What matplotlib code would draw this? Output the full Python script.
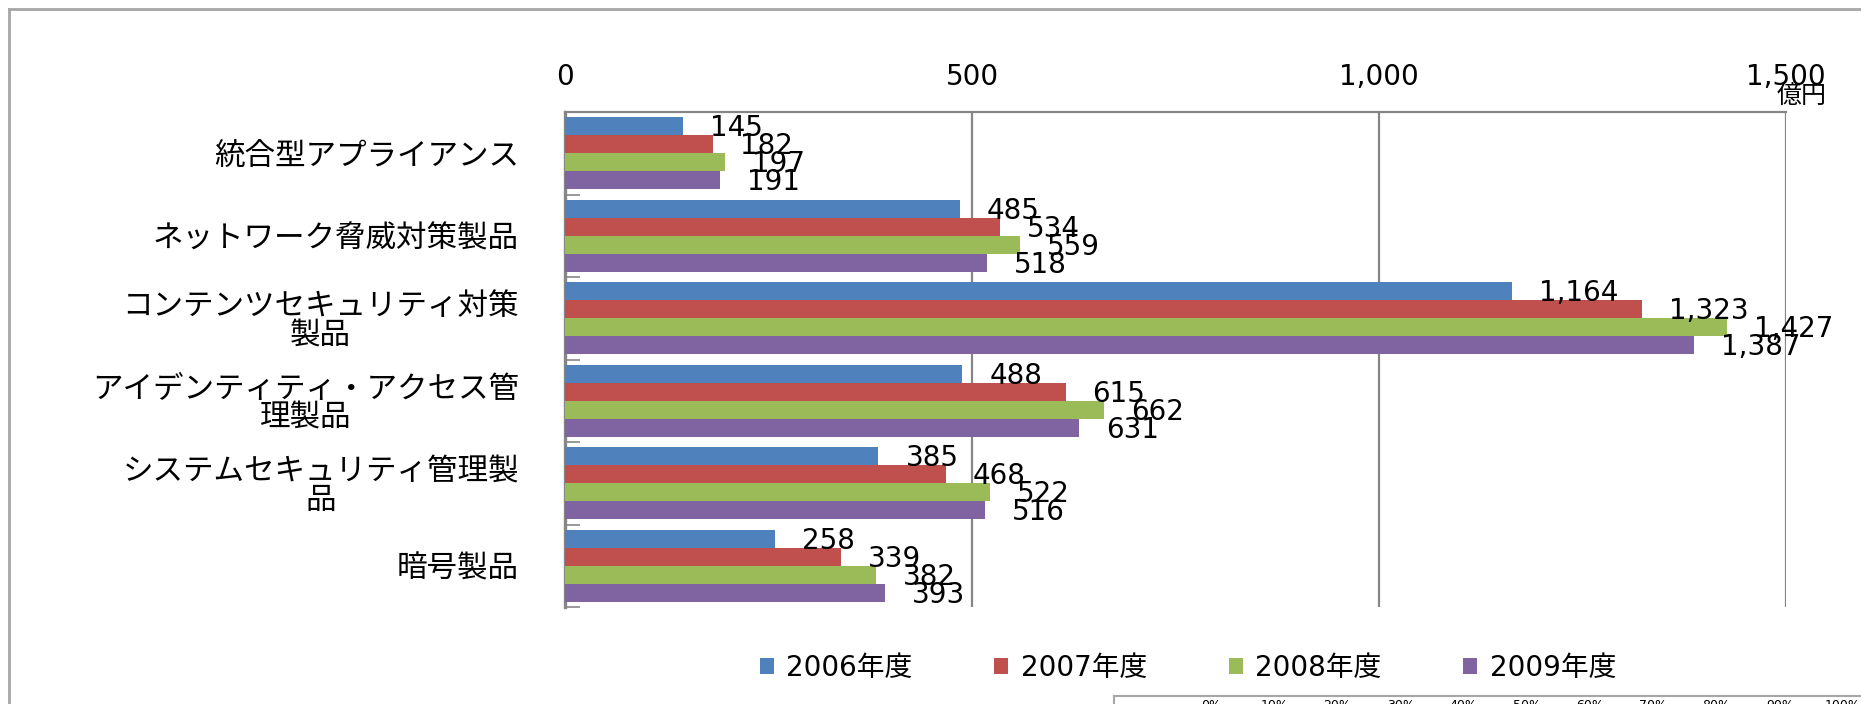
"""
情報セキュリティ製品 市場規模 (2006-2009年度) 横棒グラフ
"""

import matplotlib
matplotlib.use("Agg")
import matplotlib.pyplot as plt
from matplotlib.lines import Line2D
from matplotlib.patches import Patch
from matplotlib.ticker import FuncFormatter, FixedLocator
import numpy as np


# カテゴリ (上から順)
CATEGORIES = [
    "統合型アプライアンス",
    "ネットワーク脅威対策製品",
    "コンテンツセキュリティ対策\n製品",
    "アイデンティティ・アクセス管\n理製品",
    "システムセキュリティ管理製\n品",
    "暗号製品",
]

YEARS = ["2006年度", "2007年度", "2008年度", "2009年度"]

V2006 = [145, 485, 1164, 488, 385, 258]
V2007 = [182, 534, 1323, 615, 468, 339]
V2008 = [197, 559, 1427, 662, 522, 382]
V2009 = [191, 518, 1387, 631, 516, 393]

X_TICKS = [0, 500, 1000, 1500]
UNIT = "億円"

# 隣のグラフの切れ端 (右下)
PCT_LABELS = ["0%", "10%", "20%", "30%", "40%", "50%", "60%", "70%", "80%", "90%", "100%"]

COLORS = ["#4F81BD", "#C0504D", "#9BBB59", "#8064A2"]
GRID = "#868686"
FRAME = "#A6A6A6"

plt.rcParams["font.family"] = ["DejaVu Sans", "Noto Sans CJK JP"]

W, H = 1861, 704
fig = plt.figure(figsize=(W / 100, H / 100), dpi=100)
fig.patch.set_facecolor("white")

ax = fig.add_axes([565 / W, 1 - 607 / H, (1786 - 565) / W, (607 - 112) / H])

series = [V2006, V2007, V2008, V2009]
n_cat = len(CATEGORIES)
bar_h = 0.2167
y = np.arange(n_cat)

for k, (vals, col) in enumerate(zip(series, COLORS)):
    pos = y - 1.5 * bar_h + k * bar_h
    ax.barh(pos, vals, height=bar_h, color=col, edgecolor="none", zorder=3)
    for p, v in zip(pos, vals):
        ax.annotate(f"{v:,}", xy=(v, p), xytext=(27, -2), textcoords="offset pixels",
                    ha="left", va="center", fontsize=20, color="black", zorder=4)

ax.set_xlim(0, 1500)
ax.set_ylim(n_cat - 0.5, -0.5)

# x軸は上側
ax.xaxis.tick_top()
ax.set_xticks(X_TICKS)
ax.xaxis.set_major_formatter(FuncFormatter(lambda v, _: f"{int(v):,}"))
ax.tick_params(axis="x", length=0, pad=15, labelsize=20)
ax.grid(axis="x", color=GRID, linewidth=1.6, zorder=1)

# y軸: ラベルは中央、目盛り線は境界
ax.set_yticks(y)
ax.set_yticklabels(CATEGORIES)
ax.tick_params(axis="y", length=0, pad=46 * 0.72, labelsize=22)
plt.setp(ax.get_yticklabels(), multialignment="center", linespacing=1.0)
ax.yaxis.set_minor_locator(FixedLocator(np.arange(n_cat + 1) - 0.5))
ax.tick_params(axis="y", which="minor", direction="in", length=11, width=1.2, color=GRID)

for side in ["bottom", "right"]:
    ax.spines[side].set_visible(False)
ax.spines["left"].set_color(GRID)
ax.spines["left"].set_linewidth(2.4)
ax.spines["top"].set_color(GRID)
ax.spines["top"].set_linewidth(1.6)

fig.text(1827 / W, 1 - 84 / H, UNIT, ha="right", va="top", fontsize=18)

# 凡例
handles = [Patch(facecolor=c, edgecolor="none") for c in COLORS]
fig.legend(handles, YEARS, loc="center", bbox_to_anchor=(1188 / W, 1 - 668 / H),
           ncol=4, frameon=False, fontsize=20, handlelength=0.5, handleheight=0.5,
           handletextpad=0.45, columnspacing=2.95)

# 外枠
fig.add_artist(Line2D([9 / W, 1], [1 - 9 / H, 1 - 9 / H], transform=fig.transFigure,
                      color=FRAME, linewidth=2))
fig.add_artist(Line2D([9 / W, 9 / W], [1 - 9 / H, 0], transform=fig.transFigure,
                      color=FRAME, linewidth=2))

# 右下の別グラフの枠
fig.add_artist(Line2D([1114 / W, 1], [1 - 696 / H, 1 - 696 / H], transform=fig.transFigure,
                      color=FRAME, linewidth=1.5))
fig.add_artist(Line2D([1114 / W, 1114 / W], [1 - 696 / H, 0], transform=fig.transFigure,
                      color=FRAME, linewidth=1.5))
for i, lab in enumerate(PCT_LABELS):
    fig.text((1211 + i * 63.2) / W, 1 - 699 / H, lab, ha="center", va="top", fontsize=9)

fig.savefig("out.png", dpi=100, facecolor="white")
